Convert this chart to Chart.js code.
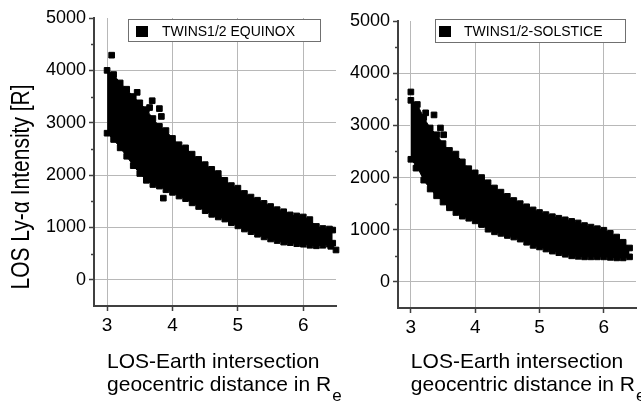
<!DOCTYPE html>
<html lang="en">
<head>
<meta charset="UTF-8">
<title>TWINS LOS Ly-alpha intensity</title>
<script src="https://cdn.jsdelivr.net/npm/chart.js"></script>
<style>
    body { margin: 0; background: #fff; }
    #wrap { position: relative; width: 641px; height: 401px; overflow: hidden; }
    canvas { position: absolute; top: 0; }
    #left { left: 0; }
    #right { left: 342px; }
</style>
</head>
<body>
<div id="wrap">
    <canvas id="left" width="342" height="401"></canvas>
    <canvas id="right" width="299" height="401"></canvas>
</div>
<script>
// edges of the point cloud, every 0.1 R_e
var eqX      = [3.0, 3.1, 3.2, 3.3, 3.4, 3.5, 3.6, 3.7, 3.8, 3.9, 4.0, 4.1, 4.2, 4.3, 4.4, 4.5, 4.6, 4.7, 4.8, 4.9, 5.0, 5.1, 5.2, 5.3, 5.4, 5.5, 5.6, 5.7, 5.8, 5.9, 6.0, 6.1, 6.2, 6.3, 6.4, 6.45];
var eqTop    = [4000, 3920, 3760, 3640, 3500, 3380, 3250, 3080, 2930, 2850, 2700, 2580, 2520, 2400, 2300, 2200, 2110, 2030, 1900, 1800, 1750, 1650, 1580, 1520, 1460, 1400, 1340, 1300, 1240, 1220, 1200, 1150, 1020, 980, 970, 950];
var eqBottom = [2800, 2680, 2520, 2360, 2180, 2030, 1900, 1820, 1790, 1720, 1670, 1600, 1550, 1470, 1400, 1320, 1250, 1200, 1160, 1090, 1030, 970, 920, 870, 820, 780, 750, 720, 710, 690, 680, 660, 650, 660, 680, 700];
// isolated points
var eqOutX = [3.07, 3.46, 3.65, 3.69, 3.8, 3.83, 3.86, 6.42, 6.5];
var eqOutY = [4290, 3580, 3290, 3420, 3270, 3120, 1560, 640, 570];

var solX      = [3.0, 3.1, 3.2, 3.3, 3.4, 3.5, 3.6, 3.7, 3.8, 3.9, 4.0, 4.1, 4.2, 4.3, 4.4, 4.5, 4.6, 4.7, 4.8, 4.9, 5.0, 5.1, 5.2, 5.3, 5.4, 5.5, 5.6, 5.7, 5.8, 5.9, 6.0, 6.1, 6.2, 6.3, 6.4];
var solTop    = [3480, 3400, 3150, 2950, 2820, 2650, 2520, 2450, 2300, 2170, 2090, 2000, 1900, 1800, 1720, 1640, 1560, 1500, 1440, 1380, 1330, 1290, 1250, 1220, 1190, 1160, 1130, 1080, 1050, 1020, 990, 930, 860, 760, 650];
var solBottom = [2350, 2200, 1950, 1780, 1650, 1530, 1420, 1330, 1260, 1220, 1170, 1100, 1010, 960, 930, 890, 860, 820, 760, 700, 670, 630, 590, 560, 530, 500, 490, 480, 480, 480, 480, 470, 460, 460, 480];
var solOutX = [3.0, 3.23, 3.36, 3.46, 3.51, 3.08, 3.6, 4.1];
var solOutY = [3640, 3240, 3200, 2950, 2820, 2180, 1470, 1110];

var xTicks = [3, 4, 5, 6];
var yTicks = [0, 1000, 2000, 3000, 4000, 5000];
var yMinor = [500, 1500, 2500, 3500, 4500];

var yTitle = 'LOS Ly-\u03b1 Intensity [R]';
var xTitle = ['LOS-Earth intersection', 'geocentric distance in R', 'e'];

var FONT = "'Liberation Sans', Arial, Helvetica, sans-serif";
var AXIS = '#404040';
var GRID = '#b8b8b8';

function pts(xs, ys) {
    return xs.map(function(x, i) { return { x: x, y: ys[i] }; });
}

var decor = {
    id: 'decor',
    afterDraw: function(chart, args, o) {
        var ctx = chart.ctx, a = chart.chartArea;
        var xs = chart.scales.x, ys = chart.scales.y;
        ctx.save();

        // minor ticks on the y axis
        ctx.strokeStyle = AXIS;
        ctx.lineWidth = 1.5;
        yMinor.forEach(function(v) {
            var py = Math.round(ys.getPixelForValue(v)) + 0.5;
            ctx.beginPath();
            ctx.moveTo(a.left - 3, py);
            ctx.lineTo(a.left, py);
            ctx.stroke();
        });

        // legend box
        ctx.fillStyle = '#fff';
        ctx.fillRect(o.lx, o.ly, o.lw, o.lh);
        ctx.strokeStyle = '#707070';
        ctx.lineWidth = 1;
        ctx.strokeRect(o.lx + 0.5, o.ly + 0.5, o.lw, o.lh);
        ctx.fillStyle = '#000';
        ctx.fillRect(o.lx + o.sq, o.ly + 7, 12, 11);
        ctx.font = '14px ' + FONT;
        ctx.textAlign = 'left';
        ctx.textBaseline = 'alphabetic';
        ctx.fillText(chart.data.datasets[0].label, o.lx + o.tx, o.ly + 17);

        // x title with subscript
        var tx = xs.getPixelForValue(3);
        ctx.font = '21px ' + FONT;
        ctx.fillText(xTitle[0], tx, 368);
        ctx.fillText(xTitle[1], tx, 391);
        var w = ctx.measureText(xTitle[1]).width;
        ctx.font = '17px ' + FONT;
        ctx.fillText(xTitle[2], tx + w + 1, 401);

        // y title, left panel only
        if (o.yTitle) {
            ctx.translate(22, 187);
            ctx.scale(1.2, 1);
            ctx.rotate(-Math.PI / 2);
            ctx.font = '21px ' + FONT;
            ctx.textAlign = 'center';
            ctx.textBaseline = 'middle';
            ctx.fillText(yTitle, 0, 0);
        }
        ctx.restore();
    }
};

function makeChart(id, label, bx, top, bottom, ox, oy, p) {
    var sq = { pointStyle: 'rect', pointRadius: 4, pointBorderWidth: 1,
               pointBackgroundColor: '#000', pointBorderColor: '#000' };
    return new Chart(document.getElementById(id), {
        type: 'line',
        data: {
            datasets: [
                Object.assign({ label: label, data: pts(bx, top), borderColor: '#000', borderWidth: 1,
                    backgroundColor: '#000', fill: '+1', tension: 0, clip: false }, sq),
                Object.assign({ label: label, data: pts(bx, bottom), borderColor: '#000', borderWidth: 1,
                    backgroundColor: '#000', fill: false, tension: 0, clip: false }, sq),
                Object.assign({ label: label, data: pts(ox, oy), showLine: false, fill: false, clip: false }, sq)
            ]
        },
        options: {
            responsive: false,
            animation: false,
            layout: { padding: { top: p.top, right: p.right, left: 0, bottom: 0 } },
            plugins: {
                legend: { display: false },
                tooltip: { enabled: false },
                decor: p.decor
            },
            scales: {
                x: {
                    type: 'linear', min: 2.8, max: 6.5,
                    afterBuildTicks: function(s) { s.ticks = xTicks.map(function(v) { return { value: v }; }); },
                    afterFit: function(s) { s.height = p.xh; },
                    grid: { color: GRID, lineWidth: 1, tickColor: AXIS, tickLength: 5, tickWidth: 1.5 },
                    border: { color: AXIS, width: 2 },
                    ticks: { color: '#000', font: { family: FONT, size: 19 }, padding: 3, maxRotation: 0,
                             callback: function(v) { return String(v); } }
                },
                y: {
                    type: 'linear', min: -500, max: 5000,
                    afterBuildTicks: function(s) { s.ticks = yTicks.map(function(v) { return { value: v }; }); },
                    afterFit: function(s) { s.width = p.yw; },
                    grid: {
                        color: function(c) { return c.tick && c.tick.value === 5000 ? 'rgba(0,0,0,0)' : GRID; },
                        lineWidth: 1, tickColor: AXIS, tickLength: 5, tickWidth: 1.5
                    },
                    border: { color: AXIS, width: 2 },
                    ticks: { color: '#000', font: { family: FONT, size: 18 }, padding: 3,
                             callback: function(v) { return String(v); } }
                }
            }
        },
        plugins: [decor]
    });
}

makeChart('left', 'TWINS1/2 EQUINOX', eqX, eqTop, eqBottom, eqOutX, eqOutY,
    { top: 18, right: 6, xh: 95, yw: 94,
      decor: { lx: 128, ly: 19, lw: 192, lh: 22, sq: 8, tx: 34, yTitle: true } });

makeChart('right', 'TWINS1/2-SOLSTICE', solX, solTop, solBottom, solOutX, solOutY,
    { top: 21, right: 4, xh: 93, yw: 56,
      decor: { lx: 93, ly: 19, lw: 190, lh: 23, sq: 4, tx: 29, yTitle: false } });
</script>
</body>
</html>
